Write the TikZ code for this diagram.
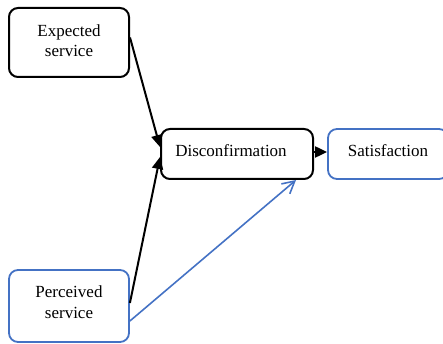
\documentclass[tikz,border=0pt]{standalone}
\usepackage{fontspec}
\setmainfont{Liberation Serif}
\usetikzlibrary{arrows.meta}
\definecolor{bl}{HTML}{4472C4}
\begin{document}
\begin{tikzpicture}[x=1pt,y=-1pt,
  box/.style={draw, line width=2pt, rounded corners=9pt, inner sep=0pt},
  bbox/.style={box, draw=bl, line width=1.8pt},
  txt/.style={font=\fontsize{17}{20.5}\selectfont, align=center, inner sep=0pt},
  blk/.style={line width=2pt, -{Triangle[length=12pt,width=11pt]}},
  blu/.style={draw=bl, line width=1.6pt, -{Straight Barb[length=12pt,width=13pt,line width=1.6pt]}}]
\useasboundingbox (0,0) rectangle (443,344);
\node[box, minimum width=120pt, minimum height=69pt,
  label={[txt, yshift=2pt]center:Expected\\service}] (exp) at (69,42.5) {};
\node[box, minimum width=152pt, minimum height=50pt,
  label={[txt, xshift=-6pt, yshift=3pt]center:Disconfirmation}] (dis) at (237,154) {};
\node[bbox, minimum width=120pt, minimum height=50pt,
  label={[txt, yshift=3pt]center:Satisfaction}] (sat) at (388,154) {};
\node[bbox, minimum width=120pt, minimum height=72pt,
  label={[txt, yshift=4pt]center:Perceived\\service}] (per) at (69,306) {};
\coordinate (dse) at ([yshift=2pt]dis.east);
\draw[blk] ([yshift=5pt]exp.east) -- ([yshift=7pt]dis.west);
\draw[blk] ([yshift=3pt]per.east) -- ([yshift=-3pt]dis.west);
\draw[blk] (dse) -- (sat.west |- dse);
\draw[blu] ([yshift=-15pt]per.east) -- ([xshift=-18pt]dis.south east);
\end{tikzpicture}
\end{document}
